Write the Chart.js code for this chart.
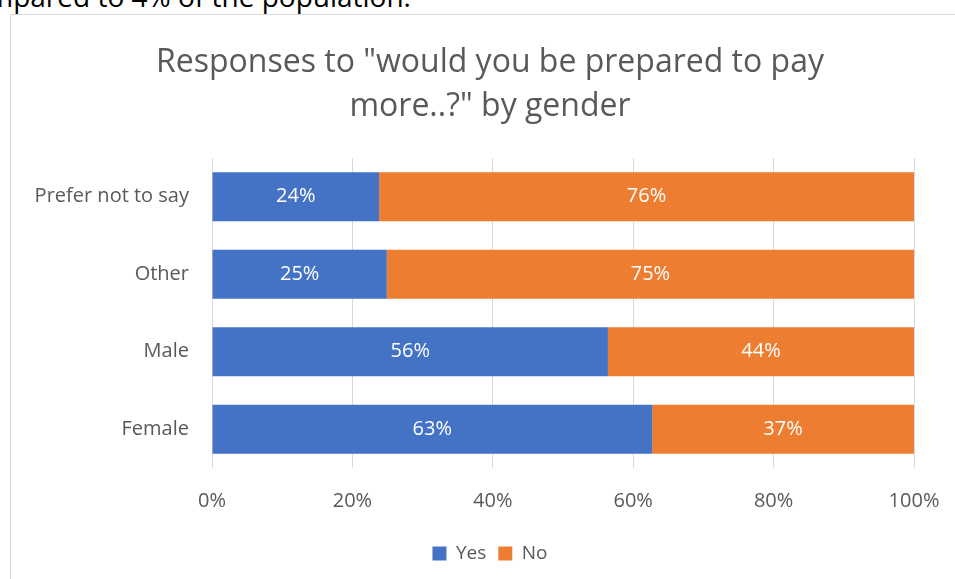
<!DOCTYPE html>
<html>
<head>
<meta charset="utf-8">
<script src="https://cdn.jsdelivr.net/npm/chart.js@4/dist/chart.umd.min.js"></script>
<style>
  body { margin: 0; width: 955px; height: 579px; overflow: hidden; background: #fff; position: relative; }
  .above { position: absolute; left: -43px; top: -18px; font: 28px/28px "Open Sans", sans-serif; color: #000; white-space: nowrap; }
  .frame { position: absolute; left: 10px; top: 14px; width: 980px; height: 600px; border: 1px solid #d9d9d9; }
  #chart { position: absolute; left: 11px; top: 15px; }
</style>
</head>
<body>
<div class="above">compared to 4% of the population.</div>
<div class="frame"></div>
<canvas id="chart" width="958" height="564"></canvas>
<script>
// Chart data
const categories = ["Prefer not to say", "Other", "Male", "Female"];
const yesValues = [23.8, 24.9, 56.4, 62.7];
const noValues = [76.2, 75.1, 43.6, 37.3];
const xTicks = [0, 20, 40, 60, 80, 100];

const textColor = "#595959";
const fontFamily = "'Open Sans', sans-serif";

// draw the value labels in the middle of each bar
const barLabels = {
  id: "barLabels",
  afterDatasetsDraw(chart) {
    const ctx = chart.ctx;
    ctx.save();
    ctx.fillStyle = "#ffffff";
    ctx.font = "20px " + fontFamily;
    ctx.textAlign = "center";
    ctx.textBaseline = "middle";
    chart.data.datasets.forEach((ds, i) => {
      const meta = chart.getDatasetMeta(i);
      meta.data.forEach((bar, j) => {
        const x = (bar.x + bar.base) / 2;
        ctx.fillText(Math.round(ds.data[j]) + "%", x, bar.y);
      });
    });
    ctx.restore();
  },
};

new Chart(document.getElementById("chart"), {
  type: "bar",
  data: {
    labels: categories,
    datasets: [
      { label: "Yes", data: yesValues, backgroundColor: "#4472C4" },
      { label: "No", data: noValues, backgroundColor: "#ED7D31" },
    ],
  },
  options: {
    indexAxis: "y",
    responsive: false,
    animation: false,
    datasets: {
      bar: { categoryPercentage: 1, barPercentage: 0.63 },
    },
    layout: { padding: { left: 0, right: 0, top: 0, bottom: 6 } },
    plugins: {
      title: {
        display: true,
        text: ['Responses to "would you be prepared to pay', 'more..?" by gender'],
        color: textColor,
        font: { family: fontFamily, size: 32, weight: "normal", lineHeight: 1.375 },
        padding: { top: 26, bottom: 29 },
      },
      legend: {
        position: "bottom",
        labels: {
          color: textColor,
          font: { family: fontFamily, size: 19 },
          boxWidth: 14,
          boxHeight: 14,
          padding: 12,
        },
      },
      tooltip: { enabled: false },
    },
    scales: {
      x: {
        stacked: true,
        min: 0,
        max: 100,
        afterBuildTicks(scale) {
          scale.ticks = xTicks.map((v) => ({ value: v }));
        },
        afterFit(scale) {
          scale.height = 64;
        },
        ticks: {
          color: textColor,
          font: { family: fontFamily, size: 20 },
          padding: 21,
          callback: (v) => v + "%",
        },
        grid: { color: "#d9d9d9", lineWidth: 1, drawTicks: false },
        border: { display: false },
      },
      y: {
        stacked: true,
        afterFit(scale) {
          scale.width = 201;
        },
        ticks: {
          color: textColor,
          font: { family: fontFamily, size: 20 },
          padding: 23,
        },
        grid: { display: false, drawTicks: false },
        border: { display: false },
      },
      // empty space on the right so title and legend stay centred on the whole frame
      yRight: {
        position: "right",
        afterFit(scale) {
          scale.width = 55;
        },
        ticks: { display: false },
        grid: { display: false, drawTicks: false },
        border: { display: false },
      },
    },
  },
  plugins: [barLabels],
});
</script>
</body>
</html>
